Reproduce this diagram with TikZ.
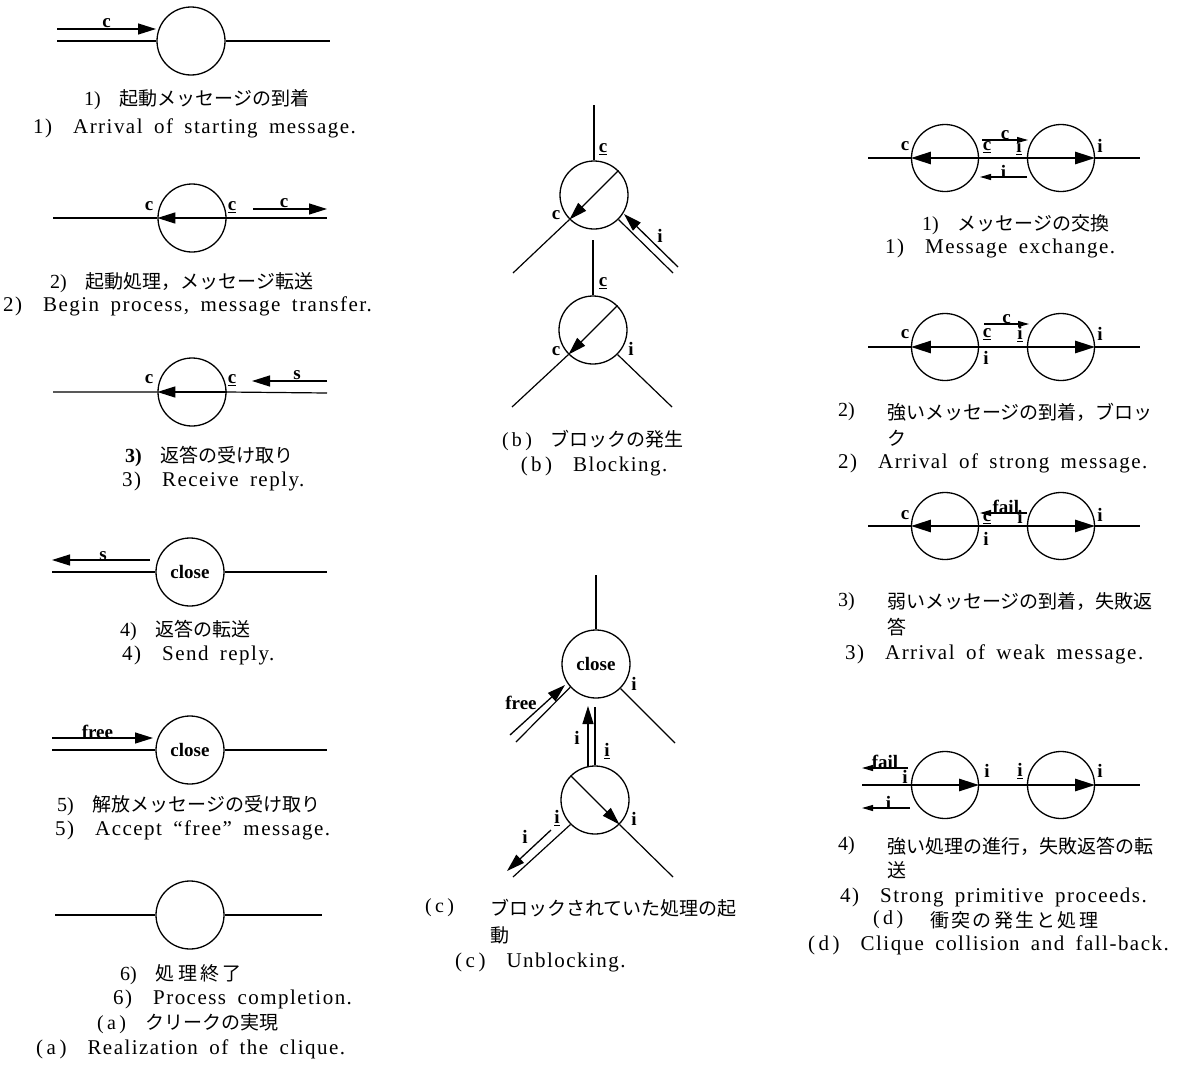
\documentclass[tikz,border=0pt]{standalone}
\usepackage{fontspec}
\setmainfont{Liberation Serif}
\newfontfamily\jp{Noto Sans CJK JP}
\newfontfamily\jpw{Noto Sans CJK JP}[LetterSpace=12]
\newfontfamily\enf{Liberation Serif}[LetterSpace=7,WordSpace=1.7]
\usetikzlibrary{arrows.meta}
\newcommand{\nm}[1]{{\rmfamily\fontsize{20}{20}\selectfont #1}}
\tikzset{
 circ/.style={circle,draw,line width=1.3pt,minimum size=68pt,inner sep=0pt,font=\fontsize{19}{19}\selectfont\bfseries},
 dcirc/.style={circ,minimum size=67pt},
 ln/.style={line width=1.2pt},
 arr/.style={line width=1.3pt,-{Triangle[length=18pt,width=11pt]}},
 tarr/.style={line width=2.6pt,-{Triangle[length=20pt,width=12pt]}},
 sarr/.style={line width=1.1pt,-{Triangle[length=11pt,width=6pt]}},
 lbl/.style={font=\fontsize{19}{19}\selectfont\bfseries,inner sep=1pt},
 jcap/.style={font=\jp\fontsize{19}{19}\selectfont,inner sep=0pt},
 ecap/.style={font=\enf\fontsize{21}{21}\selectfont,inner sep=0pt},
}
\begin{document}
\begin{tikzpicture}[x=1pt,y=-1pt]
\useasboundingbox (0,0) rectangle (1179,1079);
\fill[white] (0,0) rectangle (1179,1079);

% ---------------- (a)1
\node[circ] (a1) at (191,41) {};
\coordinate (a1l) at (57,41); \coordinate (a1r) at (330,41);
\coordinate (a1s) at (57,29); \coordinate (a1t) at (156,29);
\draw[ln] (a1l) -- (a1.west) (a1.east) -- (a1r);
\draw[arr] (a1s) -- node[lbl,above=0pt] (a1c) {c} (a1t);
\node[jcap,anchor=west] (a1j) at (84,100) {\nm{1)}\quad 起動メッセージの到着};
\node[ecap,anchor=west] (a1e) at (33,128) {1)\quad Arrival of starting message.};

% ---------------- (a)2
\node[circ] (a2) at (192,218) {};
\coordinate (a2l) at (53,218); \coordinate (a2r) at (327,218);
\draw[ln] (a2l) -- (a2.west) (a2.east) -- (a2r);
\draw[arr] (a2.east) -- (a2.west);
\node[lbl] (a2c1) at (149,206) {c};
\node[lbl] (a2c2) at (232,207) {\underline{c}};
\coordinate (a2s) at (253,209); \coordinate (a2t) at (327,209);
\draw[arr] (a2s) -- node[lbl,above=0pt,pos=0.42] (a2c3) {c} (a2t);
\node[jcap,anchor=west] (a2j) at (50,283) {\nm{2)}\quad 起動処理，メッセージ転送};
\node[ecap,anchor=west] (a2e) at (3,306) {2)\quad Begin process, message transfer.};

% ---------------- (a)3
\node[circ] (a3) at (192,392) {};
\coordinate (a3l) at (53,392); \coordinate (a3r) at (327,393);
\draw[ln] (a3l) -- (a3.west) (a3.east) -- (a3r);
\draw[arr] (a3.east) -- (a3.west);
\node[lbl] (a3c1) at (149,379) {c};
\node[lbl] (a3c2) at (232,380) {\underline{c}};
\coordinate (a3s) at (327,381); \coordinate (a3t) at (252,381);
\draw[arr] (a3s) -- node[lbl,above=0pt,pos=0.4] (a3s1) {s} (a3t);
\node[jcap,anchor=west] (a3j) at (125,457) {\nm{\bfseries 3)}\quad 返答の受け取り};
\node[ecap,anchor=west] (a3e) at (122,481) {3)\quad Receive reply.};

% ---------------- (a)4
\node[circ] (a4) at (190,572) {close};
\coordinate (a4s) at (150,560); \coordinate (a4t) at (52,560);
\coordinate (a4l) at (52,572); \coordinate (a4r) at (327,572);
\draw[arr] (a4s) -- node[lbl,above=-2pt,pos=0.48] (a4s1) {s} (a4t);
\draw[ln] (a4l) -- (a4.west) (a4.east) -- (a4r);
\node[jcap,anchor=west] (a4j) at (120,630) {\nm{4)}\quad 返答の転送};
\node[ecap,anchor=west] (a4e) at (122,655) {4)\quad Send reply.};

% ---------------- (a)5
\node[circ] (a5) at (190,750) {close};
\coordinate (a5s) at (52,738); \coordinate (a5t) at (153,738);
\coordinate (a5l) at (52,750); \coordinate (a5r) at (327,750);
\draw[arr] (a5s) -- node[lbl,above=-2pt,pos=0.45] (a5f) {free} (a5t);
\draw[ln] (a5l) -- (a5.west) (a5.east) -- (a5r);
\node[jcap,anchor=west] (a5j) at (57,806) {\nm{5)}\quad 解放メッセージの受け取り};
\node[ecap,anchor=west] (a5e) at (55,830) {5)\quad Accept “free” message.};

% ---------------- (a)6
\node[circ] (a6) at (190,915) {};
\coordinate (a6l) at (55,915); \coordinate (a6r) at (322,915);
\draw[ln] (a6l) -- (a6.west) (a6.east) -- (a6r);
\node[jcap,anchor=west] (a6j) at (120,975) {\nm{6)}\quad 処\,理\,終\,了};
\node[ecap,anchor=west] (a6e) at (113,999) {6)\quad Process completion.};
\node[jcap,anchor=west] (aj) at (97,1024) {\nm{(\,a\,)}\quad クリークの実現};
\node[ecap,anchor=west] (ae) at (36,1049) {(\,a\,)\quad Realization of the clique.};

% ---------------- (b)
\node[circ] (b1) at (594,195) {};
\coordinate (b1top) at (594,105);
\coordinate (b1bl) at (513,273); \coordinate (b1br) at (673,273);
\coordinate (b1is) at (678,267); \coordinate (b1it) at (624,214);
\draw[ln] (b1top) -- (b1.north);
\draw[arr] (b1.45) -- (b1.225);
\draw[ln] (b1.225) -- (b1bl) (b1.-45) -- (b1br);
\draw[arr] (b1is) -- (b1it);
\node[lbl] (b1c1) at (603,149) {\underline{c}};
\node[lbl] (b1c2) at (556,215) {c};
\node[lbl] (b1i) at (660,236) {i};

\node[circ] (b2) at (593,330) {};
\coordinate (b2top) at (593,240);
\coordinate (b2bl) at (512,407); \coordinate (b2br) at (672,407);
\draw[ln] (b2top) -- (b2.north);
\draw[arr] (b2.45) -- (b2.225);
\draw[ln] (b2.225) -- (b2bl) (b2.-45) -- (b2br);
\node[lbl] (b2c1) at (603,283) {\underline{c}};
\node[lbl] (b2c2) at (556,351) {c};
\node[lbl] (b2i) at (631,349) {i};
\node[jcap] (bj) at (593,440) {\nm{(\,b\,)}\quad ブロックの発生};
\node[ecap] (be) at (594,466) {(\,b\,)\quad Blocking.};

% ---------------- (c)
\node[circ] (c1) at (596,664) {close};
\coordinate (c1top) at (596,575);
\coordinate (c1bl) at (516,742); \coordinate (c1br) at (675,743);
\coordinate (c1fs) at (510,735); \coordinate (c1ft) at (565,685);
\draw[ln] (c1top) -- (c1.north);
\draw[ln] (c1.222) -- (c1bl) (c1.-45) -- (c1br);
\draw[arr] (c1fs) -- (c1ft);
\node[lbl] (c1f) at (521,703) {free};
\node[lbl] (c1i) at (634,684) {i};

\node[circ] (c2) at (595,800) {};
\coordinate (c2up) at (595,707);
\coordinate (c2as) at (588,767); \coordinate (c2at) at (588,706);
\draw[ln] (c2.north) -- (c2up);
\draw[arr] (c2as) -- (c2at);
\node[lbl] (c2i1) at (577,738) {i};
\node[lbl] (c2i2) at (607,751) {\underline{i}};
\coordinate (c2bl) at (513,877); \coordinate (c2br) at (673,877);
\coordinate (c2as2) at (551,830); \coordinate (c2at2) at (507,871);
\draw[arr] (c2.135) -- (c2.-45);
\draw[ln] (c2.225) -- (c2bl) (c2.-45) -- (c2br);
\draw[arr] (c2as2) -- (c2at2);
\node[lbl] (c2i3) at (557,818) {\underline{i}};
\node[lbl] (c2i4) at (634,819) {i};
\node[lbl] (c2i5) at (525,837) {i};
\node[jcap,anchor=west] (cj1) at (425,908) {\nm{(\,c\,)}};
\node[jcap,anchor=west] (cj2) at (490,908) {ブロックされていた処理の起};
\node[jcap,anchor=west] (cj3) at (490,935) {動};
\node[ecap,anchor=west] (ce) at (455,962) {(\,c\,)\quad Unblocking.};

% ---------------- (d)1
\node[dcirc] (d11) at (945,158) {};
\node[dcirc] (d12) at (1061,158) {};
\coordinate (d1l) at (868,158); \coordinate (d1r) at (1140,158);
\draw[ln] (d1l) -- (d11.west) (d11.east) -- (d12.west) (d12.east) -- (d1r);
\draw[tarr] (d11.east) -- (d11.west);
\draw[tarr] (d12.west) -- (d12.east);
\coordinate (d1cs) at (982,140); \coordinate (d1ct) at (1028,140);
\coordinate (d1is) at (1027,177); \coordinate (d1it) at (980,177);
\draw[sarr] (d1cs) -- node[lbl,above=-1pt] (d1c) {c} (d1ct);
\draw[sarr] (d1is) -- node[lbl,above=-3pt] (d1i) {i} (d1it);
\node[lbl] (d1a) at (905,146) {c};
\node[lbl] (d1b) at (987,147) {\underline{c}};
\node[lbl] (d1d) at (1019,147) {\underline{i}};
\node[lbl] (d1e) at (1100,146) {i};
\node[jcap,anchor=west] (d1j) at (922,225) {\nm{1)}\quad メッセージの交換};
\node[ecap,anchor=west] (d1en) at (885,248) {1)\quad Message exchange.};

% ---------------- (d)2
\node[dcirc] (d21) at (945,347) {};
\node[dcirc] (d22) at (1061,347) {};
\coordinate (d2l) at (868,347); \coordinate (d2r) at (1140,347);
\draw[ln] (d2l) -- (d21.west) (d21.east) -- (d22.west) (d22.east) -- (d2r);
\draw[tarr] (d21.east) -- (d21.west);
\draw[tarr] (d22.west) -- (d22.east);
\coordinate (d2cs) at (984,324); \coordinate (d2ct) at (1029,324);
\draw[sarr] (d2cs) -- node[lbl,above=-1pt] (d2c) {c} (d2ct);
\node[lbl] (d2a) at (905,334) {c};
\node[lbl] (d2b) at (987,334) {\underline{c}};
\node[lbl] (d2f) at (986,358) {i};
\node[lbl] (d2d) at (1020,334) {\underline{i}};
\node[lbl] (d2e) at (1100,334) {i};
\node[jcap,anchor=west] (d2j0) at (838,412) {\nm{2)}};
\node[jcap,anchor=west] (d2j1) at (887,412) {強いメッセージの到着，ブロッ};
\node[jcap,anchor=west] (d2j2) at (887,438) {ク};
\node[ecap,anchor=west] (d2en) at (838,463) {2)\quad Arrival of strong message.};

% ---------------- (d)3
\node[dcirc] (d31) at (945,526) {};
\node[dcirc] (d32) at (1061,526) {};
\coordinate (d3l) at (868,526); \coordinate (d3r) at (1140,526);
\draw[ln] (d3l) -- (d31.west) (d31.east) -- (d32.west) (d32.east) -- (d3r);
\draw[tarr] (d31.east) -- (d31.west);
\draw[tarr] (d32.west) -- (d32.east);
\coordinate (d3fs) at (1027,513); \coordinate (d3ft) at (980,513);
\draw[sarr] (d3fs) -- node[lbl,above=-2pt,pos=0.45] (d3f) {fail} (d3ft);
\node[lbl] (d3a) at (905,515) {c};
\node[lbl] (d3b) at (987,518) {\underline{c}};
\node[lbl] (d3g) at (986,539) {i};
\node[lbl] (d3d) at (1020,518) {\underline{i}};
\node[lbl] (d3e) at (1100,515) {i};
\node[jcap,anchor=west] (d3j0) at (838,602) {\nm{3)}};
\node[jcap,anchor=west] (d3j1) at (887,602) {弱いメッセージの到着，失敗返};
\node[jcap,anchor=west] (d3j2) at (887,627) {答};
\node[ecap,anchor=west] (d3en) at (845,654) {3)\quad Arrival of weak message.};

% ---------------- (d)4
\node[dcirc] (d41) at (945,785) {};
\node[dcirc] (d42) at (1061,785) {};
\coordinate (d4l) at (862,785); \coordinate (d4r) at (1140,785);
\draw[ln] (d4l) -- (d41.west) (d41.east) -- (d42.west) (d42.east) -- (d4r);
\draw[tarr] (d41.west) -- (d41.east);
\draw[tarr] (d42.west) -- (d42.east);
\coordinate (d4fs) at (908,768); \coordinate (d4ft) at (862,768);
\coordinate (d4is) at (910,808); \coordinate (d4it) at (862,808);
\draw[sarr] (d4fs) -- node[lbl,above=-2pt,pos=0.5] (d4f) {fail} (d4ft);
\draw[sarr] (d4is) -- node[lbl,above=-3pt,pos=0.45] (d4i) {i} (d4it);
\node[lbl] (d4a) at (905,778) {\underline{i}};
\node[lbl] (d4b) at (987,771) {i};
\node[lbl] (d4d) at (1020,771) {\underline{i}};
\node[lbl] (d4e) at (1100,771) {i};
\node[jcap,anchor=west] (d4j0) at (838,846) {\nm{4)}};
\node[jcap,anchor=west] (d4j1) at (887,846) {強い処理の進行，失敗返答の転};
\node[jcap,anchor=west] (d4j2) at (887,870) {送};
\node[ecap,anchor=west] (d4en) at (840,897) {4)\quad Strong primitive proceeds.};
\node[jcap,anchor=west] (dj0) at (873,920) {\nm{(\,d\,)}};
\node[jcap,anchor=west,font=\jpw\fontsize{19}{19}\selectfont] (dj) at (930,920) {衝突の発生と処理};
\node[ecap,anchor=west] (de) at (808,945) {(\,d\,)\quad Clique collision and fall-back.};
\end{tikzpicture}
\end{document}
